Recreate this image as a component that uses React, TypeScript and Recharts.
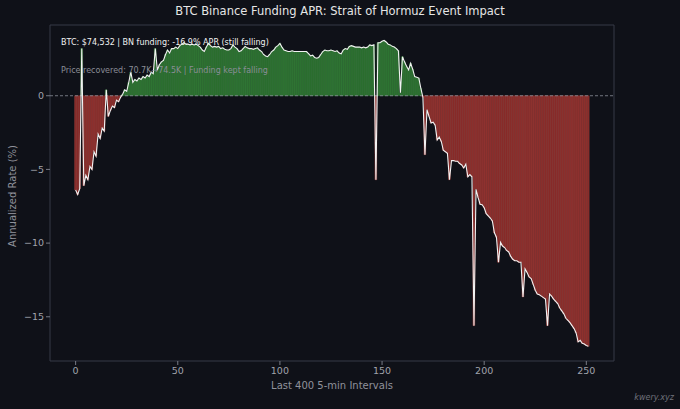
import {
  Bar,
  Cell,
  ComposedChart,
  Line,
  ReferenceArea,
  ReferenceLine,
  XAxis,
  YAxis,
} from "recharts";

// Binance funding APR (%), one value per 5-min interval
const aprValues = [
  -6.4, -6.7, -6.3, 3.2, -6.1, -5.4, -5.7, -4.8, -5.0, -3.8,
  -4.1, -2.6, -2.9, -2.2, -2.4, 0.4, -1.4, -1.0, -0.7, -0.8,
  -0.3, -0.4, -0.1, 0.1, 0.4, 0.3, 0.9, 1.6, 0.9, 1.1,
  1.0, 1.2, 1.1, 1.3, 1.2, 1.4, 1.3, 1.6, 1.5, 3.2,
  1.75, 2.1, 2.3, 2.4, 2.8, 3.1, 2.9, 3.2, 3.2, 3.3,
  3.2, 3.4, 3.5, 3.6, 3.5, 3.5, 3.45, 3.5, 3.45, 3.5,
  3.4, 3.3, 3.1, 3.0, 3.3, 3.55, 3.4, 3.3, 3.35, 3.3,
  3.35, 3.2, 3.25, 3.15, 3.1, 3.1, 3.2, 3.45, 3.3, 3.2,
  3.0, 3.05, 3.2, 3.35, 3.25, 3.2, 3.2, 3.15, 3.2, 3.25,
  3.1, 3.0, 2.8, 2.7, 2.65, 2.8, 3.0, 3.1, 3.3, 3.4,
  3.55, 3.3, 3.1, 3.05, 3.0, 3.0, 3.05, 3.0, 3.0, 3.0,
  3.0, 3.0, 3.0, 3.0, 2.85, 2.7, 2.75, 2.6, 2.55, 2.6,
  2.8, 3.0, 3.1, 3.05, 3.05, 3.1, 3.05, 3.0, 3.05, 2.9,
  2.85, 3.1, 3.2, 3.15, 3.35, 3.4, 3.35, 3.3, 3.3, 3.3,
  3.25, 3.3, 3.25, 3.3, 3.45, 3.4, 3.45, -5.7, 3.6, 3.6,
  3.7, 3.75, 3.65, 3.5, 3.45, 3.35, 3.3, 3.2, 3.05, 0.2,
  2.65, 2.3, 2.0, 1.75, 2.2, 1.8, 1.3, 1.25, 1.2, 0.5,
  -0.1, -4.0, -0.95, -1.4, -1.85, -1.8, -2.0, -3.0, -2.8, -3.1,
  -3.7, -3.8, -3.9, -5.7, -4.4, -4.4, -4.45, -4.45, -4.6, -4.7,
  -4.9, -4.65, -5.5, -5.35, -5.5, -15.6, -6.35, -6.9, -7.36, -7.4,
  -7.6, -8.0, -8.15, -8.3, -8.5, -9.3, -9.6, -11.3, -9.95, -10.2,
  -10.3, -10.5, -10.6, -10.9, -11.1, -11.2, -11.2, -11.3, -11.3, -13.65,
  -11.75, -12.0, -12.3, -12.4, -12.8, -13.2, -13.45, -13.5, -13.6, -13.7,
  -13.8, -15.6, -13.45, -13.6, -13.8, -13.95, -14.1, -14.4, -14.6, -14.8,
  -15.1, -15.25, -15.4, -15.6, -15.8, -16.1, -16.7, -16.6, -16.8, -16.85,
  -16.95, -17.0,
];

const xTicks = [0, 50, 100, 150, 200, 250];
const yTicks = [-15, -10, -5, 0];

const data = aprValues.map((v, i) => ({ i, v }));

const FONT = "'DejaVu Sans', sans-serif";
const BG = "#0f1118";
const X_DOMAIN: [number, number] = [-12.55, 263.55];
const Y_DOMAIN: [number, number] = [-18, 4.8];

const fmt = (t: number) => String(t).replace("-", "\u2212");

export default function App() {
  return (
    <div
      style={{
        position: "fixed",
        left: 0,
        top: 0,
        width: 680,
        height: 409,
        background: BG,
        fontFamily: FONT,
        overflow: "hidden",
      }}
    >
      <div
        style={{
          position: "absolute",
          top: 4,
          width: 680,
          textAlign: "center",
          fontSize: 11.5,
          color: "#e6e6e6",
        }}
      >
        BTC Binance Funding APR: Strait of Hormuz Event Impact
      </div>

      <ComposedChart
        width={680}
        height={409}
        data={data}
        margin={{ top: 25, right: 66, bottom: 18, left: 10 }}
      >
        <ReferenceArea
          x1={X_DOMAIN[0]}
          x2={X_DOMAIN[1]}
          y1={Y_DOMAIN[0]}
          y2={Y_DOMAIN[1]}
          fill="none"
          stroke="#363a46"
          strokeWidth={1}
        />
        <XAxis
          dataKey="i"
          type="number"
          domain={X_DOMAIN}
          ticks={xTicks}
          allowDataOverflow
          height={30}
          axisLine={false}
          tickLine={{ stroke: "#777b86" }}
          tickSize={4}
          tick={{ fill: "#a0a3ab", fontSize: 9.5, fontFamily: FONT }}
        />
        <YAxis
          type="number"
          domain={Y_DOMAIN}
          ticks={yTicks}
          allowDataOverflow
          width={40}
          axisLine={false}
          tickLine={{ stroke: "#777b86" }}
          tickSize={4}
          tickFormatter={fmt}
          tick={{ fill: "#a0a3ab", fontSize: 9.5, fontFamily: FONT }}
        />
        <Bar dataKey="v" barSize={2.1} isAnimationActive={false}>
          {data.map((d) => (
            <Cell
              key={d.i}
              fill={d.v >= 0 ? "#2a6c2e" : "#862a28"}
              stroke={d.v >= 0 ? "#3f8d45" : "#a84a45"}
              strokeWidth={0.4}
            />
          ))}
        </Bar>
        <ReferenceLine y={0} stroke="#8d909a" strokeWidth={0.8} strokeDasharray="3 2" />
        <Line
          dataKey="v"
          type="linear"
          stroke="#f2f2f2"
          strokeWidth={1.1}
          dot={false}
          isAnimationActive={false}
        />
      </ComposedChart>

      <div
        style={{
          position: "absolute",
          left: 61,
          top: 38,
          fontSize: 8,
          color: "#f0f0f0",
          whiteSpace: "nowrap",
        }}
      >
        BTC: $74,532 | BN funding: -16.9% APR (still falling)
      </div>
      <div
        style={{
          position: "absolute",
          left: 61,
          top: 66,
          fontSize: 8,
          color: "#8a8d96",
          whiteSpace: "nowrap",
        }}
      >
        Price recovered: 70.7K→74.5K | Funding kept falling
      </div>

      <div
        style={{
          position: "absolute",
          left: 12,
          top: 196,
          transform: "translate(-50%, -50%) rotate(-90deg)",
          fontSize: 10,
          color: "#8f929b",
          whiteSpace: "nowrap",
        }}
      >
        Annualized Rate (%)
      </div>
      <div
        style={{
          position: "absolute",
          left: 0,
          width: 664,
          top: 380,
          textAlign: "center",
          fontSize: 10,
          color: "#8f929b",
        }}
      >
        Last 400 5-min Intervals
      </div>
      <div
        style={{
          position: "absolute",
          right: 6,
          top: 393,
          fontSize: 8,
          fontStyle: "italic",
          color: "#6f727b",
        }}
      >
        kwery.xyz
      </div>
    </div>
  );
}
